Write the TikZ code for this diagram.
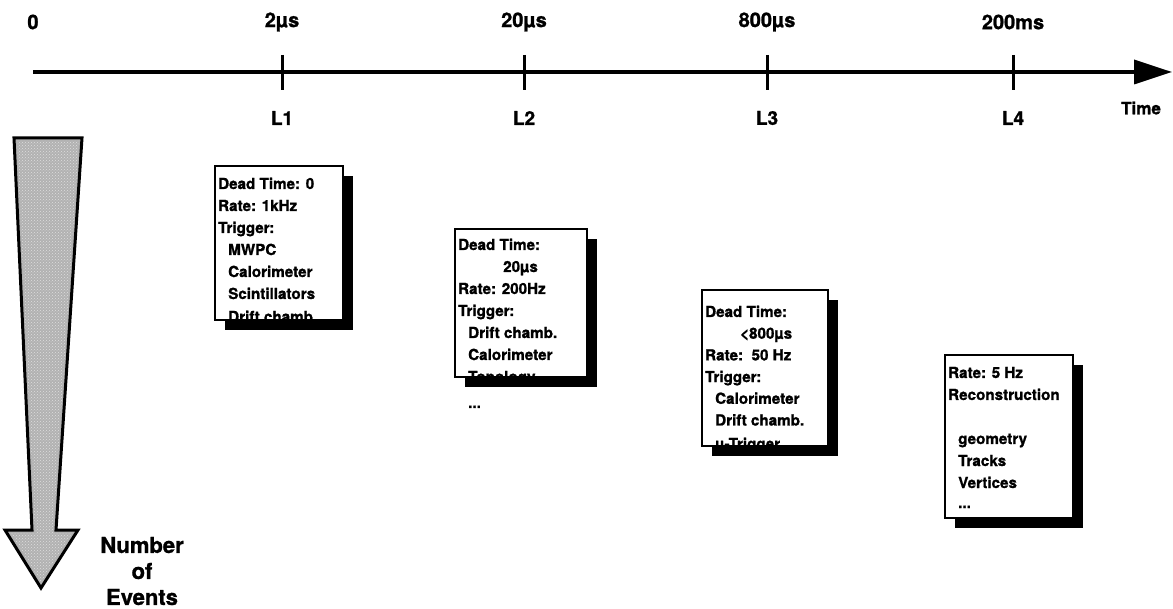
\documentclass[tikz,border=0pt]{standalone}
\usepackage{fontspec}
\setmainfont[BoldFeatures={FakeBold=1.2}]{TeX Gyre Heros}
\usetikzlibrary{arrows.meta,patterns}
\begin{document}
\begin{tikzpicture}[x=1pt,y=-1pt,
  axis/.style={line width=3.5pt,-{Triangle[length=38pt,width=24pt]}},
  tick/.style={line width=3pt},
  toplbl/.style={font=\fontsize{20}{22}\selectfont\bfseries,inner sep=0pt},
  lvllbl/.style={font=\fontsize{19}{22}\selectfont\bfseries,inner sep=0pt},
  boxfr/.style={draw=black,line width=2.4pt,fill=white},
  shadow/.style={fill=black},
  btxt/.style={font=\fontsize{15.2}{20}\selectfont\bfseries,inner sep=0pt,anchor=base west},
  evtxt/.style={font=\fontsize{22}{25}\selectfont\bfseries,inner sep=0pt}
]
\useasboundingbox (0,0) rectangle (1173,609);

% time axis
\coordinate (a0) at (33,72);
\coordinate (a1) at (1172,72);
\draw[axis] (a0) -- (a1);
\foreach \n/\x/\t/\l in {1/282/2µs/L1, 2/524/20µs/L2, 3/767/800µs/L3, 4/1013/200ms/L4}{
  \coordinate (tt\n) at (\x,55);
  \coordinate (tb\n) at (\x,90);
  \draw[tick] (tt\n) -- (tb\n);
  \node[toplbl] (top\n) at (\x,22) {\t};
  \node[lvllbl] (lvl\n) at (\x,118) {\l};
}
\node[toplbl] (top0) at (33,22) {0};
\node[font=\fontsize{17}{20}\selectfont\bfseries,inner sep=0pt] (time) at (1141,108) {Time};

% Number of events arrow
\draw[line width=3pt,fill=gray!60,line join=miter]
  (14,138) -- (82,138) -- (56,530) -- (78,530) -- (41,588) -- (5,530) -- (32,530) -- cycle;
\fill[pattern=crosshatch dots,pattern color=gray!25]
  (17,141) -- (79,141) -- (53,533) -- (72,533) -- (41,582) -- (11,533) -- (35,533) -- cycle;
\node[evtxt] (num) at (142,545) {Number};
\node[evtxt] (of) at (142,571) {of};
\node[evtxt] (ev) at (142,597) {Events};

% Box 1 (L1)
\fill[shadow] (225,176) rectangle (353,330);
\filldraw[boxfr] (215,166) rectangle (343,320);
\begin{scope}
\clip (216,167) rectangle (342,318.5);
\node[btxt] (b1a) at (218,189) {Dead Time: 0};
\node[btxt] (b1b) at (218,211) {Rate: 1kHz};
\node[btxt] (b1c) at (218,233) {Trigger:};
\node[btxt] (b1d) at (228,255) {MWPC};
\node[btxt] (b1e) at (228,277) {Calorimeter};
\node[btxt] (b1f) at (228,299) {Scintillators};
\node[btxt] (b1g) at (228,322) {Drift chamb.};
\end{scope}
\draw[line width=2.4pt] (215,166) rectangle (343,320);

% Box 2 (L2)
\fill[shadow] (465,239) rectangle (597,387);
\filldraw[boxfr] (455,229) rectangle (587,377);
\begin{scope}
\clip (456,230) rectangle (586,375.5);
\node[btxt] (b2a) at (458,250) {Dead Time:};
\node[btxt] (b2b) at (503,272) {20µs};
\node[btxt] (b2c) at (458,294) {Rate: 200Hz};
\node[btxt] (b2d) at (458,316) {Trigger:};
\node[btxt] (b2e) at (468,338) {Drift chamb.};
\node[btxt] (b2f) at (468,360) {Calorimeter};
\node[btxt] (b2g) at (468,382) {Topology};
\end{scope}
\draw[line width=2.4pt] (455,229) rectangle (587,377);
\node[btxt] (b2h) at (468,408) {...};

% Box 3 (L3)
\fill[shadow] (712,300) rectangle (838,456);
\filldraw[boxfr] (702,290) rectangle (828,446);
\begin{scope}
\clip (703,291) rectangle (827,444.5);
\node[btxt] (b3a) at (705,317) {Dead Time:};
\node[btxt] (b3b) at (740,338.7) {<800µs};
\node[btxt] (b3c) at (705,360.4) {Rate:\ \ 50 Hz};
\node[btxt] (b3d) at (705,382.1) {Trigger:};
\node[btxt] (b3e) at (715,403.8) {Calorimeter};
\node[btxt] (b3f) at (715,425.5) {Drift chamb.};
\node[btxt] (b3g) at (715,449) {µ-Trigger};
\end{scope}
\draw[line width=2.4pt] (702,290) rectangle (828,446);

% Box 4 (L4)
\fill[shadow] (955,365) rectangle (1083,528);
\filldraw[boxfr] (945,355) rectangle (1073,518);
\node[btxt] (b4a) at (948,378) {Rate: 5 Hz};
\node[btxt] (b4b) at (948,400) {Reconstruction};
\node[btxt] (b4c) at (958,444) {geometry};
\node[btxt] (b4d) at (958,466) {Tracks};
\node[btxt] (b4e) at (958,488) {Vertices};
\node[btxt] (b4f) at (958,508) {...};
\end{tikzpicture}
\end{document}
